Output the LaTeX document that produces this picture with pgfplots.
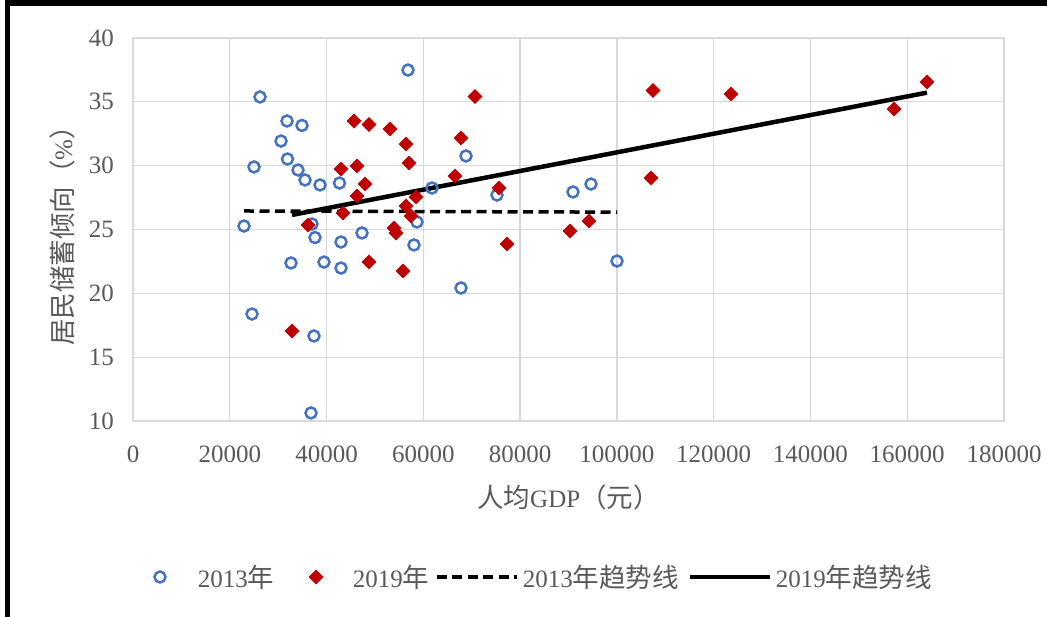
\documentclass[border=0pt]{standalone}
\usepackage{fontspec}
\setmainfont{Liberation Serif}
\newfontfamily\cjk[Scale=1.06]{Noto Sans CJK SC}
\usepackage{pgfplots}
\usepackage{pgfplotstable}
\pgfplotsset{compat=1.18}
\definecolor{textgray}{HTML}{595959}
\definecolor{gridgray}{HTML}{D9D9D9}
\definecolor{blueS}{HTML}{4472C4}
\definecolor{redS}{HTML}{C00000}
\newcommand{\fs}{\fontsize{25}{30}\selectfont}
\pgfplotsset{
  legA/.style={legend image code/.code={\path[draw=none,fill=none] (0pt,0pt) -- (48pt,0pt); \draw[##1] plot coordinates {(10pt,0pt)};}},
  legB/.style={legend image code/.code={\path[draw=none,fill=none] (0pt,0pt) -- (78.5pt,0pt); \draw[##1] plot coordinates {(41.5pt,0pt)};}},
  legC/.style={legend image code/.code={\path[draw=none,fill=none] (0pt,0pt) -- (93.5pt,0pt); \draw[##1] (7.5pt,0pt) -- (87.5pt,0pt);}},
  legD/.style={legend image code/.code={\path[draw=none,fill=none] (0pt,0pt) -- (97pt,0pt); \draw[##1] (11pt,0pt) -- (91pt,0pt);}},
}

\pgfplotstableread{
x y
22939 25.27
24593 18.38
25006 29.90
26246 35.38
31826 33.50
34926 33.15
30586 31.93
31929 30.52
34099 29.66
35546 28.88
38645 28.49
42675 28.64
32652 22.38
39472 22.45
42985 21.98
36992 25.43
37612 24.37
42985 24.02
47325 24.73
37405 16.66
36785 10.63
56832 37.49
58691 25.59
58071 23.79
61791 28.25
68818 30.76
67785 20.42
75224 27.70
90930 27.94
94650 28.56
100023 22.53
}\dataA

\pgfplotstableread{
x y
36166 25.35
32859 17.05
48772 22.45
45672 33.50
48772 33.22
53112 32.87
56418 31.70
57038 30.21
42985 29.74
46292 29.97
47945 28.56
46292 27.62
43399 26.29
58485 27.54
56418 26.84
57451 26.06
53939 25.12
54352 24.73
55799 21.75
70678 35.42
67785 32.17
66545 29.19
75638 28.25
77291 23.86
90310 24.88
94237 25.67
107463 35.89
107050 29.03
123583 35.61
157268 34.44
164088 36.55
}\dataB

\begin{document}
\begin{tikzpicture}[x=1pt,y=1pt]
\path[use as bounding box] (0,0) rectangle (1047,617);
\fill[black] (5,611) rectangle (1047,617);
\fill[black] (5,0) rectangle (9.5,617);
\begin{axis}[
  at={(133pt,196pt)}, anchor=south west,
  width=871pt, height=383pt, scale only axis,
  xmin=0, xmax=180000, ymin=10, ymax=40,
  xtick={0,20000,...,180000}, ytick={10,15,...,40},
  scaled x ticks=false,
  xticklabel style={/pgf/number format/fixed, /pgf/number format/1000 sep={}, anchor=center, yshift=-33pt},
  yticklabel style={anchor=east, inner sep=0pt, xshift=-19pt},
  /pgf/number format/assume math mode=true,
  tick label style={font=\fs, text=textgray},
  grid=major, major grid style={draw=gridgray, line width=1.3pt},
  axis line style={draw=gridgray, line width=1.3pt},
  major tick length=0pt, tick style={draw=none},
  xlabel={{\cjk 人均}GDP{\cjk （元）}},
  ylabel={{\cjk 居民储蓄倾向（}\%{\cjk ）}},
  label style={font=\fs, text=textgray},
  xlabel style={at={(axis description cs:0.5,-0.1984)}, anchor=center},
  ylabel style={at={(axis description cs:-0.0815,0.5)}, anchor=center},
  legend columns=4,
  legend style={draw=none, fill=none, inner sep=0pt, outer sep=0pt,
    at={(0.0195,-0.4073)}, anchor=west, font=\fs, text=textgray,
    nodes={inner sep=0pt}},
]
\addplot[only marks, mark=o, mark size=5.5pt, draw=blueS,
  mark options={draw=blueS, line width=2.5pt, fill=none}, legA]
  table[x=x,y=y] {\dataA};
\addlegendentry{2013{\cjk 年}}
\addplot[only marks, mark=square*, mark size=5pt, color=redS,
  mark options={rotate=45, draw=redS, fill=redS, line width=0.5pt}, legB]
  table[x=x,y=y] {\dataB};
\addlegendentry{2019{\cjk 年}}
\addplot[black, line width=3.5pt, dash pattern=on 10pt off 5.5pt, legC]
  coordinates {(22939,26.45) (100023,26.36)};
\addlegendentry{2013{\cjk 年趋势线}}
\addplot[black, line width=4.5pt, legD]
  coordinates {(32859,26.14) (164088,35.72)};
\addlegendentry{2019{\cjk 年趋势线}}
\end{axis}
\end{tikzpicture}
\end{document}
